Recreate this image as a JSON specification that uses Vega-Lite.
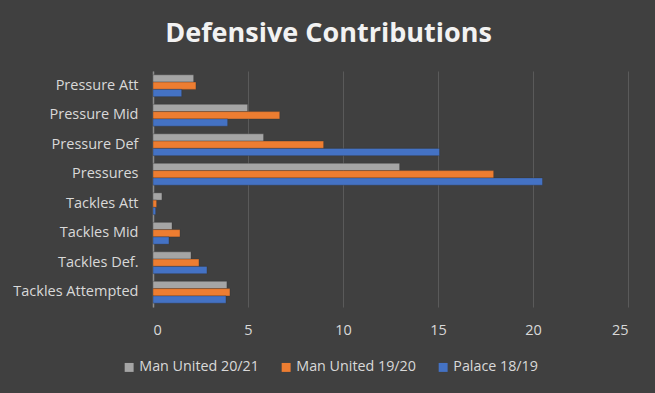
{
  "$schema": "https://vega.github.io/schema/vega-lite/v6.json",
  "width": 475,
  "height": 236,
  "autosize": {"type": "none"},
  "padding": {"left": 153, "top": 71, "right": 27, "bottom": 86},
  "background": "#404040",
  "title": {
    "text": "Defensive Contributions",
    "font": "Open Sans",
    "fontSize": 27,
    "fontWeight": "bold",
    "color": "#f2f2f2",
    "anchor": "middle",
    "dx": -62,
    "offset": 23
  },
  "data": {
    "values": [
      {"cat": "Pressure Att", "series": "Man United 20/21", "v": 2.14},
      {"cat": "Pressure Att", "series": "Man United 19/20", "v": 2.26},
      {"cat": "Pressure Att", "series": "Palace 18/19", "v": 1.51},
      {"cat": "Pressure Mid", "series": "Man United 20/21", "v": 4.98},
      {"cat": "Pressure Mid", "series": "Man United 19/20", "v": 6.67},
      {"cat": "Pressure Mid", "series": "Palace 18/19", "v": 3.93},
      {"cat": "Pressure Def", "series": "Man United 20/21", "v": 5.82},
      {"cat": "Pressure Def", "series": "Man United 19/20", "v": 8.98},
      {"cat": "Pressure Def", "series": "Palace 18/19", "v": 15.08},
      {"cat": "Pressures", "series": "Man United 20/21", "v": 12.98},
      {"cat": "Pressures", "series": "Man United 19/20", "v": 17.93},
      {"cat": "Pressures", "series": "Palace 18/19", "v": 20.5},
      {"cat": "Tackles Att", "series": "Man United 20/21", "v": 0.47},
      {"cat": "Tackles Att", "series": "Man United 19/20", "v": 0.19},
      {"cat": "Tackles Att", "series": "Palace 18/19", "v": 0.14},
      {"cat": "Tackles Mid", "series": "Man United 20/21", "v": 1.0},
      {"cat": "Tackles Mid", "series": "Man United 19/20", "v": 1.42},
      {"cat": "Tackles Mid", "series": "Palace 18/19", "v": 0.84},
      {"cat": "Tackles Def.", "series": "Man United 20/21", "v": 2.0},
      {"cat": "Tackles Def.", "series": "Man United 19/20", "v": 2.42},
      {"cat": "Tackles Def.", "series": "Palace 18/19", "v": 2.84},
      {"cat": "Tackles Attempted", "series": "Man United 20/21", "v": 3.89},
      {"cat": "Tackles Attempted", "series": "Man United 19/20", "v": 4.05},
      {"cat": "Tackles Attempted", "series": "Palace 18/19", "v": 3.84}
    ]
  },
  "mark": {"type": "bar", "stroke": "#2a2a2a", "strokeWidth": 0.5, "strokeOpacity": 0.6},
  "encoding": {
    "y": {
      "field": "cat",
      "type": "nominal",
      "sort": ["Pressure Att", "Pressure Mid", "Pressure Def", "Pressures", "Tackles Att", "Tackles Mid", "Tackles Def.", "Tackles Attempted"],
      "scale": {"paddingInner": 0.26, "paddingOuter": 0.13},
      "axis": {
        "title": null,
        "labelFont": "Open Sans",
        "labelFontSize": 14.5,
        "labelColor": "#d9d9d9",
        "labelPadding": 15,
        "ticks": false,
        "domainColor": "#8c8c8c",
        "domainWidth": 1.5,
        "grid": false
      }
    },
    "yOffset": {
      "field": "series",
      "type": "nominal",
      "sort": ["Man United 20/21", "Man United 19/20", "Palace 18/19"]
    },
    "x": {
      "field": "v",
      "type": "quantitative",
      "scale": {"domain": [0, 25], "nice": false},
      "axis": {
        "title": null,
        "values": [0, 5, 10, 15, 20, 25],
        "labelFont": "Open Sans",
        "labelFontSize": 14.5,
        "labelColor": "#d9d9d9",
        "labelPadding": 16,
        "domain": false,
        "ticks": false,
        "grid": true,
        "gridColor": "#5a5a5a",
        "gridWidth": 1
      }
    },
    "color": {
      "field": "series",
      "type": "nominal",
      "sort": ["Man United 20/21", "Man United 19/20", "Palace 18/19"],
      "scale": {
        "domain": ["Man United 20/21", "Man United 19/20", "Palace 18/19"],
        "range": ["#a5a5a5", "#ed7d31", "#4472c4"]
      },
      "legend": {
        "title": null,
        "orient": "none",
        "direction": "horizontal",
        "legendX": -31,
        "legendY": 289,
        "symbolType": "square",
        "symbolSize": 80,
        "symbolStrokeWidth": 0,
        "labelFont": "Open Sans",
        "labelFontSize": 14.3,
        "labelColor": "#d9d9d9",
        "columnPadding": 20,
        "labelOffset": 3
      }
    }
  },
  "config": {"view": {"stroke": null}}
}
